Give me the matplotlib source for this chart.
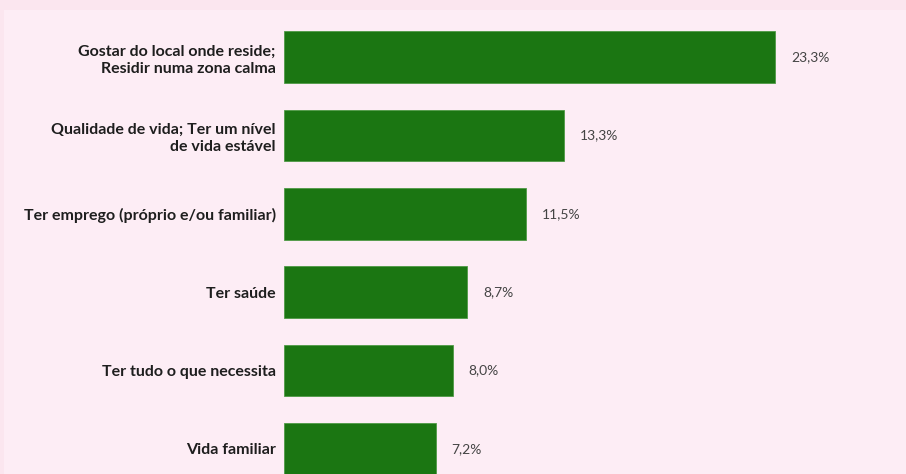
import matplotlib.pyplot as plt
from matplotlib.patches import Rectangle

categories = [
    "Gostar do local onde reside;\nResidir numa zona calma",
    "Qualidade de vida; Ter um nível\nde vida estável",
    "Ter emprego (próprio e/ou familiar)",
    "Ter saúde",
    "Ter tudo o que necessita",
    "Vida familiar",
]
values = [23.3, 13.3, 11.5, 8.7, 8.0, 7.2]
value_labels = ["23,3%", "13,3%", "11,5%", "8,7%", "8,0%", "7,2%"]

outer_bg = "#fbe6ef"
inner_bg = "#fdedf5"
bar_color = "#1b7612"

fig = plt.figure(figsize=(9.06, 4.74), dpi=100)
fig.patch.set_facecolor(inner_bg)
# darker strips at top and left edge
fig.patches.append(Rectangle((0, 1 - 10 / 474), 1, 10 / 474, transform=fig.transFigure,
                             facecolor=outer_bg, edgecolor="none", zorder=0))
fig.patches.append(Rectangle((0, 0), 4 / 906, 1, transform=fig.transFigure,
                             facecolor=outer_bg, edgecolor="none", zorder=0))

ax = fig.add_axes([284 / 906, 0, 1 - 284 / 906, 1])
ax.set_facecolor("none")
pos = list(range(len(values)))
ax.barh(pos, values, height=0.66, color=bar_color, edgecolor="#4f9a45", linewidth=0.6)

px = 21.07  # pixels per percent
ax.set_xlim(0, (906 - 284) / px)
ax.set_ylim(5.319, -0.727)

for y, v, lab in zip(pos, values, value_labels):
    ax.text(v + 16 / px, y, lab, va="center", ha="left", fontsize=10,
            color="#444444", family="Lato")

ax.set_yticks(pos)
ax.set_yticklabels(categories, fontsize=11.5, fontweight="bold", family="Lato",
                   color="#1e1e1e", linespacing=1.3)
ax.tick_params(axis="y", length=0, pad=6)
ax.set_xticks([])
for s in ax.spines.values():
    s.set_visible(False)

fig.savefig("out.png", dpi=100, facecolor=fig.get_facecolor())
